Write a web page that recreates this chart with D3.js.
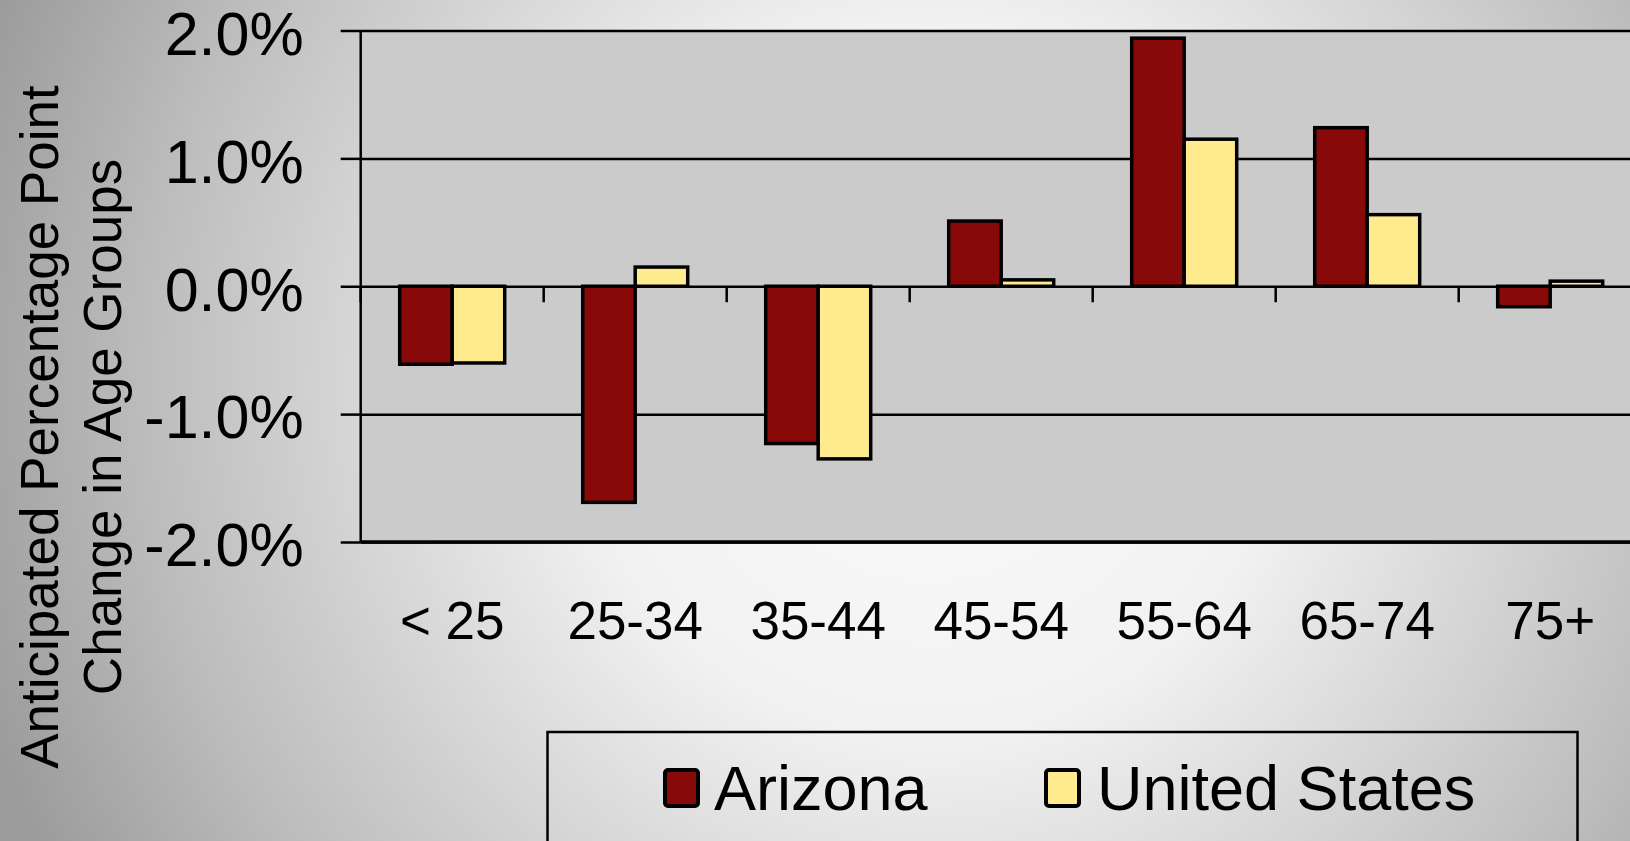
<!DOCTYPE html>
<html>
<head>
<meta charset="utf-8">
<script src="https://cdn.jsdelivr.net/npm/d3@7/dist/d3.min.js"></script>
<style>
  html, body { margin: 0; padding: 0; background: #ccc; }
  svg { display: block; }
  text { font-family: "Liberation Sans", Arial, sans-serif; fill: #000; }
</style>
</head>
<body>
<svg id="chart" width="1630" height="841"></svg>
<script>
const categories = ["< 25", "25-34", "35-44", "45-54", "55-64", "65-74", "75+"];
const seriesNames = ["Arizona", "United States"];
const arizona = [-0.61, -1.69, -1.23, 0.51, 1.94, 1.24, -0.16];
const unitedStates = [-0.60, 0.15, -1.35, 0.05, 1.15, 0.56, 0.04];
const yTicks = [-2, -1, 0, 1, 2];
const seriesColors = ["#880909", "#FFEB8E"];
const axisTitleLines = ["Anticipated Percentage Point", "Change in Age Groups"];

(function () {
const svg = d3.select("#chart");
const W = 1630, H = 841;

// background gradient
const defs = svg.append("defs");
const rg = defs.append("radialGradient").attr("id", "bg")
  .attr("gradientUnits", "userSpaceOnUse")
  .attr("cx", 930).attr("cy", 380).attr("r", 1000);
rg.append("stop").attr("offset", "0").attr("stop-color", "#fbfbfb");
rg.append("stop").attr("offset", "0.35").attr("stop-color", "#f2f2f2");
rg.append("stop").attr("offset", "0.78").attr("stop-color", "#bdbdbd");
rg.append("stop").attr("offset", "1").attr("stop-color", "#9c9c9c");
svg.append("rect").attr("width", W).attr("height", H).attr("fill", "url(#bg)");

const pLeft = 360.7, step = 183, pTop = 30.5, pBottom = 542;
const x0 = d3.scaleBand().domain(categories)
  .range([pLeft, pLeft + step * categories.length]).paddingInner(0).paddingOuter(0);
const x1 = d3.scaleBand().domain(seriesNames)
  .range([0, x0.bandwidth()]).paddingInner(0).paddingOuter(0.743);
const y = d3.scaleLinear().domain([-2, 2]).range([pBottom, pTop]);

const plotRight = x0.range()[1];

// plot area
svg.append("rect")
  .attr("x", pLeft).attr("y", pTop)
  .attr("width", plotRight - pLeft).attr("height", pBottom - pTop)
  .attr("fill", "#cbcbcb");

// gridlines
const grid = svg.append("g").attr("transform", `translate(${pLeft},0)`)
  .call(d3.axisLeft(y).tickValues(yTicks).tickSize(-(plotRight - pLeft)).tickFormat(""));
grid.select(".domain").remove();
grid.selectAll("line").attr("stroke", "#000").attr("stroke-width", 2.5);

// bottom border heavier
svg.append("line").attr("x1", pLeft).attr("x2", plotRight)
  .attr("y1", y(-2)).attr("y2", y(-2)).attr("stroke", "#000").attr("stroke-width", 3.5);

// y axis
const locale = d3.formatLocale({decimal: ".", thousands: ",", grouping: [3], currency: ["", ""], minus: "-"});
const fmt = locale.format(".1f");
const yAxis = svg.append("g").attr("transform", `translate(${pLeft},0)`)
  .call(d3.axisLeft(y).tickValues(yTicks).tickSize(20).tickPadding(37)
    .tickFormat(d => fmt(d) + "%"));
yAxis.select(".domain").attr("stroke", "#000").attr("stroke-width", 2.5)
  .attr("d", `M0,${pTop}V${pBottom}`);
yAxis.selectAll(".tick line").attr("stroke", "#000").attr("stroke-width", 2.5);
yAxis.selectAll(".tick text")
  .attr("font-family", "Liberation Sans, Arial, sans-serif")
  .attr("font-size", 61).attr("fill", "#000").attr("dy", "0.39em");

// bars
const data = categories.map((c, i) => ({cat: c, vals: [arizona[i], unitedStates[i]]}));
const groups = svg.append("g").selectAll("g").data(data).join("g")
  .attr("transform", d => `translate(${x0(d.cat)},0)`);
groups.selectAll("rect")
  .data(d => d.vals.map((v, j) => ({name: seriesNames[j], v, j})))
  .join("rect")
  .attr("x", d => x1(d.name))
  .attr("width", x1.bandwidth())
  .attr("y", d => y(Math.max(0, d.v)))
  .attr("height", d => Math.abs(y(d.v) - y(0)))
  .attr("fill", d => seriesColors[d.j])
  .attr("stroke", "#000").attr("stroke-width", 3.5);

// category boundary tick marks at the zero line
const bounds = categories.map(c => x0(c)).concat([plotRight]);
svg.append("g").selectAll("line").data(bounds).join("line")
  .attr("x1", d => d).attr("x2", d => d)
  .attr("y1", y(0)).attr("y2", y(0) + 16)
  .attr("stroke", "#000").attr("stroke-width", 2.5);

// category labels
svg.append("g").selectAll("text").data(categories).join("text")
  .attr("x", d => x0(d) + x0.bandwidth() / 2)
  .attr("y", 639)
  .attr("text-anchor", "middle")
  .attr("font-size", 53)
  .text(d => d);

// axis title
const titleX = [58, 120.5];
axisTitleLines.forEach((t, i) => {
  svg.append("text")
    .attr("transform", `translate(${titleX[i]},427) rotate(-90)`)
    .attr("text-anchor", "middle")
    .attr("font-size", 53)
    .text(t);
});

// legend
svg.append("rect").attr("x", 547.5).attr("y", 732)
  .attr("width", 1030).attr("height", 200)
  .attr("fill", "none").attr("stroke", "#000").attr("stroke-width", 2.5);
const legendItems = [
  {name: seriesNames[0], color: seriesColors[0], sx: 665, tx: 714},
  {name: seriesNames[1], color: seriesColors[1], sx: 1046, tx: 1097}
];
const lg = svg.append("g").selectAll("g").data(legendItems).join("g");
lg.append("rect")
  .attr("x", d => d.sx).attr("y", 770).attr("width", 33).attr("height", 36)
  .attr("rx", 3).attr("ry", 3)
  .attr("fill", d => d.color).attr("stroke", "#000").attr("stroke-width", 4);
lg.append("text")
  .attr("x", d => d.tx).attr("y", 810)
  .attr("font-size", 63)
  .text(d => d.name);
})();
</script>
</body>
</html>
